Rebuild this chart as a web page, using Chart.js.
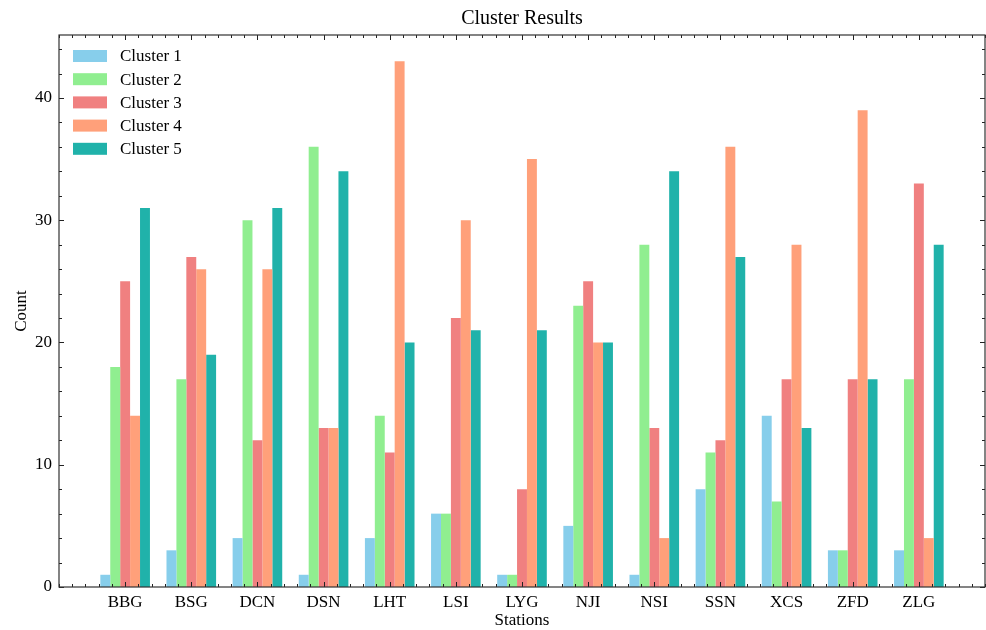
<!DOCTYPE html>
<html>
<head>
<meta charset="utf-8">
<script src="https://cdn.jsdelivr.net/npm/chart.js@4.4.0/dist/chart.umd.min.js"></script>
<style>
  html, body { margin: 0; padding: 0; background: #fff; }
  #wrap { width: 986px; height: 630px; }
</style>
</head>
<body>
<div id="wrap"><canvas id="chart" width="986" height="630"></canvas></div>
<script>
const stations = ['BBG', 'BSG', 'DCN', 'DSN', 'LHT', 'LSI', 'LYG', 'NJI', 'NSI', 'SSN', 'XCS', 'ZFD', 'ZLG'];
const cluster1 = [1, 3, 4, 1, 4, 6, 1, 5, 1, 8, 14, 3, 3];
const cluster2 = [18, 17, 30, 36, 14, 6, 1, 23, 28, 11, 7, 3, 17];
const cluster3 = [25, 27, 12, 13, 11, 22, 8, 25, 13, 12, 17, 17, 33];
const cluster4 = [14, 26, 26, 13, 43, 30, 35, 20, 4, 36, 28, 39, 4];
const cluster5 = [31, 19, 31, 34, 20, 21, 21, 20, 34, 27, 13, 17, 28];
const seriesNames = ['Cluster 1', 'Cluster 2', 'Cluster 3', 'Cluster 4', 'Cluster 5'];
const seriesColors = ['#87CEEB', '#90EE90', '#F08080', '#FFA07A', '#20B2AA'];
const yTicks = [0, 10, 20, 30, 40];

const FONT = '"Liberation Serif", "DejaVu Serif", serif';
const X_MIN = -1, X_MAX = 13, Y_MAX = 45.15;

const allSeries = [cluster1, cluster2, cluster3, cluster4, cluster5];

// ticks pointing inward on all four sides, plus the frame
const frameTicks = {
  id: 'frameTicks',
  afterDatasetsDraw(chart) {
    const { ctx, chartArea: a, scales: { x, y } } = chart;
    ctx.save();
    ctx.strokeStyle = '#222';
    ctx.lineWidth = 1;
    ctx.beginPath();
    const tick = (px, py, dx, dy) => { ctx.moveTo(px, py); ctx.lineTo(px + dx, py + dy); };
    // x ticks
    for (let k = 0; k <= (X_MAX - X_MIN) * 5; k++) {
      const v = X_MIN + k * 0.2;
      const major = Math.abs(v - Math.round(v)) < 1e-6 && v >= 0 && v < stations.length;
      const len = major ? 5 : 3;
      const px = Math.round(x.getPixelForValue(v)) + 0.5;
      tick(px, a.bottom, 0, -len);
      tick(px, a.top, 0, len);
    }
    // y ticks
    for (let v = 0; v <= Y_MAX; v += 2) {
      const major = v % 10 === 0;
      const len = major ? 5 : 3;
      const py = Math.round(y.getPixelForValue(v)) + 0.5;
      tick(a.left, py, len, 0);
      tick(a.right, py, -len, 0);
    }
    ctx.stroke();
    ctx.strokeStyle = '#333';
    ctx.lineWidth = 1.2;
    ctx.strokeRect(a.left, a.top, a.right - a.left, a.bottom - a.top);
    ctx.restore();
  },
  afterDraw(chart) {
    const { ctx, chartArea: a } = chart;
    const cx = (a.left + a.right) / 2;
    ctx.save();
    ctx.fillStyle = '#000';
    ctx.textAlign = 'center';
    ctx.textBaseline = 'middle';
    ctx.font = '20px ' + FONT;
    ctx.fillText('Cluster Results', cx, 19);
    ctx.font = '17px ' + FONT;
    ctx.fillText('Stations', cx, 621);
    ctx.save();
    ctx.translate(22, (a.top + a.bottom) / 2);
    ctx.rotate(-Math.PI / 2);
    ctx.fillText('Count', 0, 0);
    ctx.restore();
    // legend
    ctx.textAlign = 'left';
    seriesNames.forEach((name, i) => {
      const yc = 56 + i * 23.2;
      ctx.fillStyle = seriesColors[i];
      ctx.fillRect(73, yc - 6, 34, 12);
      ctx.fillStyle = '#000';
      ctx.fillText(name, 120, yc + 1);
    });
    ctx.restore();
  }
};

new Chart(document.getElementById('chart'), {
  type: 'bar',
  data: {
    datasets: allSeries.map((vals, i) => ({
      label: seriesNames[i],
      data: vals.map((v, j) => ({ x: j, y: v })),
      backgroundColor: seriesColors[i],
      borderWidth: 0,
      categoryPercentage: 0.75,
      barPercentage: 1.0
    }))
  },
  options: {
    responsive: false,
    animation: false,
    devicePixelRatio: 1,
    layout: { padding: { top: 35, right: 1, left: 0, bottom: 0 } },
    plugins: {
      legend: { display: false },
      title: { display: false },
      tooltip: { enabled: false }
    },
    scales: {
      x: {
        type: 'linear',
        min: X_MIN,
        max: X_MAX,
        offset: false,
        grid: { display: false, drawTicks: false, offset: false },
        border: { display: false },
        afterBuildTicks: s => { s.ticks = stations.map((_, i) => ({ value: i })); },
        afterFit: s => { s.height = 43; },
        ticks: {
          autoSkip: false,
          maxRotation: 0,
          padding: 5,
          color: '#000',
          font: { family: FONT, size: 17 },
          callback: v => stations[v] || ''
        }
      },
      y: {
        min: 0,
        max: Y_MAX,
        grid: { display: false, drawTicks: false },
        border: { display: false },
        afterBuildTicks: s => { s.ticks = yTicks.map(v => ({ value: v })); },
        afterFit: s => { s.width = 59; },
        ticks: {
          padding: 7,
          color: '#000',
          font: { family: FONT, size: 17 }
        }
      }
    }
  },
  plugins: [frameTicks]
});
</script>
</body>
</html>
